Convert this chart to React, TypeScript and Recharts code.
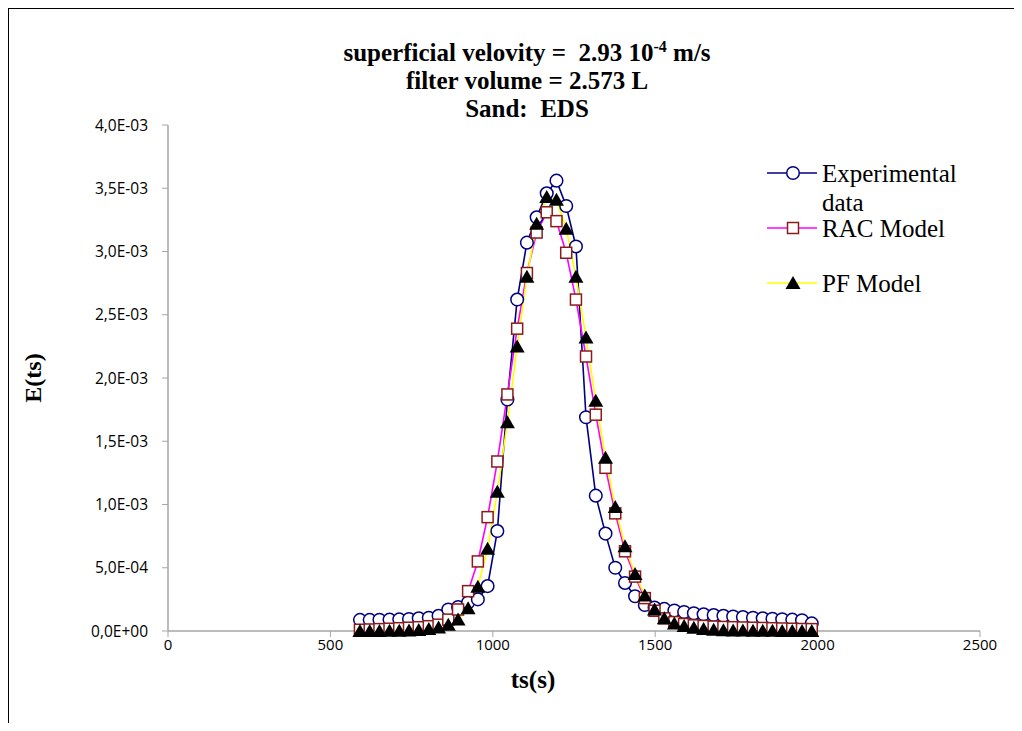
import { LineChart, Line, XAxis, YAxis } from 'recharts';

// ts(s) sampling times shared by the three series
const times = [
  591, 621, 651, 682, 712, 742, 772, 803, 833, 863, 893, 924, 954, 984, 1014, 1045,
  1075, 1105, 1135, 1166, 1196, 1226, 1256, 1287, 1317, 1347, 1377, 1407, 1438, 1468,
  1498, 1528, 1559, 1589, 1619, 1649, 1680, 1710, 1740, 1770, 1801, 1831, 1861, 1891,
  1922, 1952, 1982,
];

const experimental = [
  8.8e-5, 8.8e-5, 8.9e-5, 9.0e-5, 9.2e-5, 9.5e-5, 1.0e-4, 1.05e-4, 1.2e-4, 1.7e-4,
  1.9e-4, 2.25e-4, 2.5e-4, 3.55e-4, 7.9e-4, 1.83e-3, 2.62e-3, 3.07e-3, 3.27e-3, 3.46e-3,
  3.56e-3, 3.36e-3, 3.04e-3, 1.69e-3, 1.07e-3, 7.7e-4, 5.0e-4, 3.8e-4, 2.75e-4, 2.05e-4,
  1.85e-4, 1.75e-4, 1.62e-4, 1.5e-4, 1.4e-4, 1.32e-4, 1.26e-4, 1.2e-4, 1.15e-4, 1.1e-4,
  1.05e-4, 1.0e-4, 9.7e-5, 9.3e-5, 9.0e-5, 8.5e-5, 6.0e-5,
];

const racModel = [
  1.0e-5, 1.2e-5, 1.5e-5, 1.8e-5, 2.2e-5, 2.6e-5, 3.0e-5, 3.8e-5, 5.0e-5, 9.0e-5,
  1.7e-4, 3.15e-4, 5.5e-4, 9.0e-4, 1.34e-3, 1.87e-3, 2.39e-3, 2.83e-3, 3.15e-3, 3.31e-3,
  3.24e-3, 2.99e-3, 2.62e-3, 2.17e-3, 1.71e-3, 1.29e-3, 9.3e-4, 6.3e-4, 4.3e-4, 2.6e-4,
  1.6e-4, 1.0e-4, 7.0e-5, 5.5e-5, 4.5e-5, 4.0e-5, 3.5e-5, 3.2e-5, 3.0e-5, 2.8e-5,
  2.6e-5, 2.4e-5, 2.2e-5, 2.0e-5, 1.8e-5, 1.6e-5, 1.5e-5,
];

const pfModel = [
  0, 0, 0, 1e-6, 2e-6, 4e-6, 8e-6, 1.5e-5, 2.8e-5, 5.0e-5,
  9.0e-5, 1.8e-4, 3.5e-4, 6.5e-4, 1.1e-3, 1.65e-3, 2.25e-3, 2.8e-3, 3.22e-3, 3.43e-3,
  3.41e-3, 3.18e-3, 2.8e-3, 2.32e-3, 1.82e-3, 1.37e-3, 9.8e-4, 6.7e-4, 4.5e-4, 2.8e-4,
  1.7e-4, 1.0e-4, 6.0e-5, 4.0e-5, 2.5e-5, 1.5e-5, 1.0e-5, 6e-6, 4e-6, 3e-6,
  2e-6, 1e-6, 1e-6, 0, 0, 0, 0,
];

const xTicks = [0, 500, 1000, 1500, 2000, 2500];
const yTicks = [0, 0.0005, 0.001, 0.0015, 0.002, 0.0025, 0.003, 0.0035, 0.004];

const data = times.map((t, i) => ({
  t,
  exp: experimental[i],
  rac: racModel[i],
  pf: pfModel[i],
}));

const NAVY = '#000080';
const MAGENTA = '#FF00FF';
const YELLOW = '#FFFF00';
const DARK_RED = '#8B1A1A';
const AXIS = '#A6A6A6';
const SERIF = '"Liberation Serif", "Times New Roman", serif';
const SANS = '"Open Sans", "Liberation Sans", sans-serif';

// Excel style "3,5E-03"
function fmtSci(v: number) {
  if (v === 0) return '0,0E+00';
  const exp = Math.floor(Math.log10(v) + 1e-9);
  const mant = v / Math.pow(10, exp);
  const sign = exp < 0 ? '-' : '+';
  const e = String(Math.abs(exp)).padStart(2, '0');
  return `${mant.toFixed(1).replace('.', ',')}E${sign}${e}`;
}

function circleDot(p: any) {
  if (p.cx == null || p.cy == null) return <g key={`e${p.index}`} />;
  return (
    <circle key={`e${p.index}`} cx={p.cx} cy={p.cy} r={6.3} fill="#fff" stroke={NAVY} strokeWidth={1.5} />
  );
}

function squareDot(p: any) {
  if (p.cx == null || p.cy == null) return <g key={`r${p.index}`} />;
  return (
    <rect
      key={`r${p.index}`}
      x={p.cx - 5.5}
      y={p.cy - 5.5}
      width={11}
      height={11}
      fill="#fff"
      stroke={DARK_RED}
      strokeWidth={1.5}
    />
  );
}

function triangleDot(p: any) {
  if (p.cx == null || p.cy == null) return <g key={`p${p.index}`} />;
  const { cx, cy } = p;
  return (
    <path key={`p${p.index}`} d={`M${cx},${cy - 7} L${cx + 7.5},${cy + 6} L${cx - 7.5},${cy + 6} Z`} fill="#000" />
  );
}

function YTitle() {
  return (
    <text
      x={0}
      y={0}
      transform="translate(25,370) rotate(-90)"
      textAnchor="middle"
      dominantBaseline="central"
      fontFamily={SERIF}
      fontWeight="bold"
      fontSize={24}
      fill="#000"
    >
      E(ts)
    </text>
  );
}

function XTitle() {
  return (
    <text
      x={525}
      y={671}
      textAnchor="middle"
      dominantBaseline="central"
      fontFamily={SERIF}
      fontWeight="bold"
      fontSize={25}
      fill="#000"
    >
      ts(s)
    </text>
  );
}

// legend plus the chart-area frame (left, top, right; the bottom runs off the page)
function Overlay() {
  const rows = [
    { y: 165, stroke: NAVY, dot: circleDot },
    { y: 220, stroke: MAGENTA, dot: squareDot },
    { y: 275, stroke: YELLOW, dot: triangleDot },
  ];
  return (
    <svg width={1008} height={723} style={{ position: 'absolute', left: 0, top: 0, pointerEvents: 'none' }}>
      <path d="M0,723 L0,0 L1007,0 L1007,723" fill="none" stroke="#000" strokeWidth={2} />
      {rows.map((r, i) => (
        <g key={i}>
          <line x1={759} x2={809} y1={r.y} y2={r.y} stroke={r.stroke} strokeWidth={1.6} />
          {r.dot({ cx: 785, cy: r.y, index: `l${i}` })}
        </g>
      ))}
      <g fontFamily={SERIF} fontSize={25} fill="#000" dominantBaseline="central">
        <text x={814} y={165}>Experimental</text>
        <text x={814} y={194}>data</text>
        <text x={814} y={220}>RAC Model</text>
        <text x={814} y={275}>PF Model</text>
      </g>
    </svg>
  );
}

export default function App() {
  return (
    <div style={{ position: 'relative', width: 1008, height: 723, marginBottom: -8 }}>
      <div
        style={{
          position: 'absolute',
          left: 219,
          width: 600,
          top: 31,
          textAlign: 'center',
          fontFamily: SERIF,
          fontWeight: 'bold',
          fontSize: 25,
          lineHeight: '28px',
          whiteSpace: 'pre',
        }}
      >
        <div>
          superficial velovity =  2.93 10
          <sup style={{ fontSize: 16, lineHeight: 0 }}>-4</sup> m/s
        </div>
        <div>filter volume = 2.573 L</div>
        <div>Sand:  EDS</div>
      </div>
      <LineChart width={1008} height={715} data={data} margin={{ top: 117, right: 36, bottom: 32, left: 0 }}>
        <XAxis
          dataKey="t"
          type="number"
          domain={[0, 2500]}
          ticks={xTicks}
          height={60}
          axisLine={{ stroke: AXIS, strokeWidth: 1.5 }}
          tickLine={{ stroke: AXIS }}
          tickSize={6}
          tick={{ fill: '#000', fontSize: 15, fontFamily: SANS }}
          label={<XTitle />}
        />
        <YAxis
          type="number"
          domain={[0, 0.004]}
          ticks={yTicks}
          width={160}
          axisLine={{ stroke: AXIS, strokeWidth: 1.5 }}
          tickLine={{ stroke: AXIS }}
          tickSize={6}
          tickMargin={14}
          tickFormatter={fmtSci}
          tick={{ fill: '#000', fontSize: 15.5, fontFamily: SANS }}
          label={<YTitle />}
        />
        <Line
          dataKey="exp"
          name="Experimental data"
          stroke={NAVY}
          strokeWidth={1.6}
          dot={circleDot}
          activeDot={false}
          isAnimationActive={false}
        />
        <Line
          dataKey="rac"
          name="RAC Model"
          stroke={MAGENTA}
          strokeWidth={1.6}
          dot={squareDot}
          activeDot={false}
          isAnimationActive={false}
        />
        <Line
          dataKey="pf"
          name="PF Model"
          stroke={YELLOW}
          strokeWidth={1.6}
          dot={triangleDot}
          activeDot={false}
          isAnimationActive={false}
        />
      </LineChart>
      <Overlay />
    </div>
  );
}
